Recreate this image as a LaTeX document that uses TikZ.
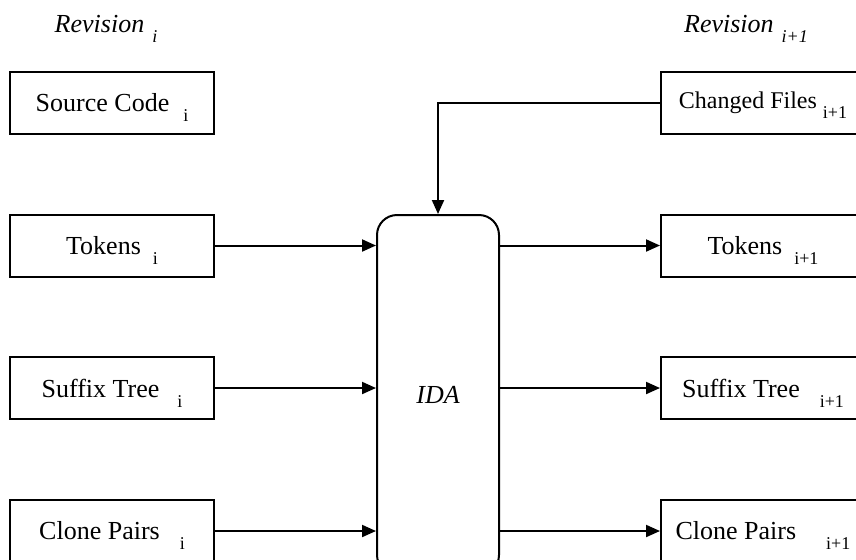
\documentclass[tikz,border=0pt]{standalone}
\usepackage{fontspec}
\setmainfont{Liberation Serif}
\usetikzlibrary{arrows.meta}

\newcommand{\sub}[2][6pt]{\hspace{#1}\raisebox{-5pt}[0pt][0pt]{\fontsize{9}{9}\selectfont #2}}

\begin{document}
\begin{tikzpicture}[
            x=0.5pt, y=-0.5pt,
            line width=1pt,
            every node/.style={font=\fontsize{13}{15}\selectfont, inner sep=0pt},
            box/.style={draw, minimum width=102pt, minimum height=31pt},
            ida/.style={draw, rounded corners=10pt, minimum width=61pt, minimum height=180pt},
            flow/.style={-{Triangle[length=7pt,width=6pt]}},
            ]
            \useasboundingbox (0,0) rectangle (856,559);
            \clip (0,0) rectangle (856,559);

            % revision headings
            \node[anchor=base] (revold) at (106, 32) {\itshape Revision\sub[4pt]{i}};
            \node[anchor=base] (revnew) at (746, 32) {\itshape Revision\sub[4pt]{i+1}};

            % revision i
            \node[box] (src) at (112, 103) {Source Code\sub[7pt]{i}};
            \node[box] (tok) at (112, 245.5) {Tokens\sub[6pt]{i}};
            \node[box] (sfx) at (112, 388) {Suffix Tree\sub[9pt]{i}};
            \node[box] (cln) at (112, 531) {Clone Pairs\sub[10pt]{i}};

            % IDA
            \node[ida] (ida) at (438, 395) {\itshape IDA};

            % revision i+1
            \node[box, font=\fontsize{12}{14}\selectfont] (chg) at (763, 103) {Changed Files\sub[3pt]{i+1}};
            \node[box] (tok2) at (763, 245.5) {Tokens\sub[6pt]{i+1}};
            \node[box] (sfx2) at (763, 388) {Suffix Tree\sub[10pt]{i+1}};
            \node[box] (cln2) at (763, 531) {Clone Pairs\sub[15pt]{i+1}};

            % connectors
            \draw[flow] (chg.west) -| (ida.north);
            \foreach \a/\b in {tok/tok2, sfx/sfx2, cln/cln2} {
                \draw[flow] (\a.east) -- (\a.east -| ida.west);
                \draw[flow] (ida.east |- \b.west) -- (\b.west);
            }
        \end{tikzpicture}
\end{document}
